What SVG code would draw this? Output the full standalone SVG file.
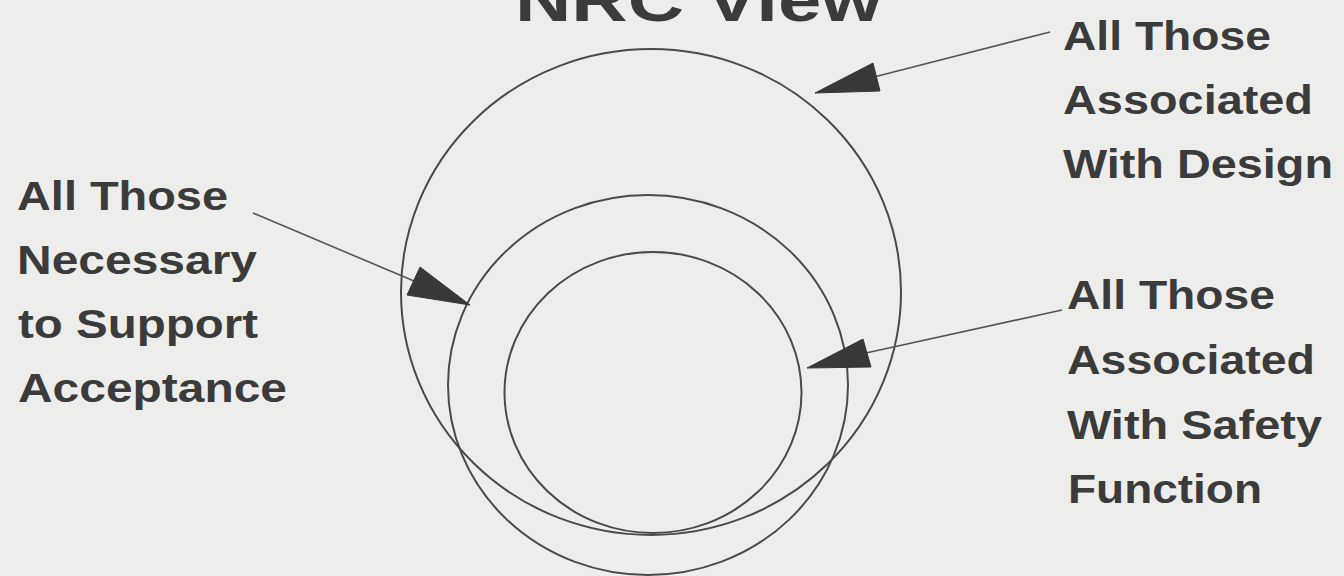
<svg xmlns="http://www.w3.org/2000/svg" width="1344" height="576" viewBox="0 0 1344 576">
<style>
.bg{fill:#ededeb}
.ring{fill:none;stroke:#4a4a4a;stroke-width:2}
.lbl{font-family:"Liberation Sans",Arial,sans-serif;font-weight:bold;font-size:41px;fill:#3b3b3b}
.title{font-family:"Liberation Sans",Arial,sans-serif;font-weight:bold;font-size:62px;fill:#3b3b3b}
.lead{fill:none;stroke:#555;stroke-width:1.6}
.head{fill:#383838;stroke:#383838;stroke-width:1;stroke-linejoin:round}
</style>
<rect class="bg" x="0" y="0" width="1344" height="576"/>
<g id="title">
<text class="title" x="515" y="21" textLength="367" lengthAdjust="spacingAndGlyphs">NRC View</text>
</g>
<g id="design-set">
<ellipse class="ring" cx="651" cy="292" rx="250" ry="243"/>
</g>
<g id="acceptance-set">
<ellipse class="ring" cx="648" cy="385" rx="200" ry="190"/>
</g>
<g id="safety-set">
<ellipse class="ring" cx="653" cy="392.5" rx="148.5" ry="140.5"/>
</g>
<g id="connectors">
<line class="lead" x1="1050" y1="32" x2="874" y2="77"/>
<polygon class="head" points="815,93 873,63 880,91"/>
<line class="lead" x1="253" y1="213" x2="414" y2="281"/>
<polygon class="head" points="470,305 420,267 407,295"/>
<line class="lead" x1="1062" y1="310" x2="866" y2="353"/>
<polygon class="head" points="807,368 863,339 871,367"/>
</g>
<g id="label-design">
<text class="lbl" x="1063" y="50" textLength="208" lengthAdjust="spacingAndGlyphs">All Those</text>
<text class="lbl" x="1063" y="114" textLength="250" lengthAdjust="spacingAndGlyphs">Associated</text>
<text class="lbl" x="1063" y="178" textLength="270" lengthAdjust="spacingAndGlyphs">With Design</text>
</g>
<g id="label-acceptance">
<text class="lbl" x="17" y="210" textLength="211" lengthAdjust="spacingAndGlyphs">All Those</text>
<text class="lbl" x="17" y="274" textLength="240" lengthAdjust="spacingAndGlyphs">Necessary</text>
<text class="lbl" x="18" y="338" textLength="240" lengthAdjust="spacingAndGlyphs">to Support</text>
<text class="lbl" x="18" y="402" textLength="269" lengthAdjust="spacingAndGlyphs">Acceptance</text>
</g>
<g id="label-safety">
<text class="lbl" x="1067" y="309" textLength="208" lengthAdjust="spacingAndGlyphs">All Those</text>
<text class="lbl" x="1067" y="374" textLength="248" lengthAdjust="spacingAndGlyphs">Associated</text>
<text class="lbl" x="1067" y="439" textLength="255" lengthAdjust="spacingAndGlyphs">With Safety</text>
<text class="lbl" x="1068" y="503" textLength="194" lengthAdjust="spacingAndGlyphs">Function</text>
</g>
</svg>
